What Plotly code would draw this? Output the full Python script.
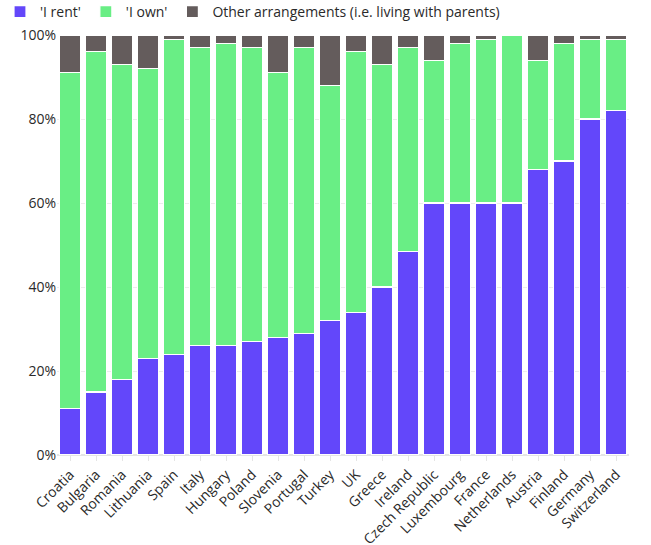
import plotly.graph_objects as go

countries = ["Croatia", "Bulgaria", "Romania", "Lithuania", "Spain", "Italy", "Hungary",
             "Poland", "Slovenia", "Portugal", "Turkey", "UK", "Greece", "Ireland",
             "Czech Republic", "Luxembourg", "France", "Netherlands", "Austria",
             "Finland", "Germany", "Switzerland"]
rent = [11, 15, 18, 23, 24, 26, 26, 27, 28, 29, 32, 34, 40, 48.5, 60, 60, 60, 60, 68, 70, 80, 82]
own = [80, 81, 75, 69, 75, 71, 72, 70, 63, 68, 56, 62, 53, 48.5, 34, 38, 39, 40, 26, 28, 19, 17]
other = [9, 4, 7, 8, 1, 3, 2, 3, 9, 3, 12, 4, 7, 3, 6, 2, 1, 0, 6, 2, 1, 1]
y_ticks = [0, 20, 40, 60, 80, 100]
y_labels = ["0%", "20%", "40%", "60%", "80%", "100%"]

series = [("'I rent'", rent, "#6347FA"),
          ("'I own'", own, "#69EE85"),
          ("Other arrangements (i.e. living with parents)", other, "#645C5C")]

fig = go.Figure()
for name, vals, col in series:
    fig.add_trace(go.Bar(x=countries, y=vals, name=name, marker_color=col,
                         marker_line_color="white", marker_line_width=1.2))

fig.update_layout(
    barmode="stack",
    bargap=0.18,
    width=651, height=545,
    margin=dict(l=57, r=22, t=35, b=90, autoexpand=False),
    paper_bgcolor="white", plot_bgcolor="white",
    font=dict(family="Open Sans", size=14, color="#2a2a2a"),
    legend=dict(orientation="h", xref="container", yref="container",
                x=-0.024, y=1 - 12 / 545, xanchor="left", yanchor="middle",
                font=dict(size=14), traceorder="normal",
                itemwidth=30, tracegroupgap=0),
    xaxis=dict(tickangle=-45, ticks="outside", ticklen=5, tickcolor="#e5e5e5",
               showgrid=False, tickfont=dict(size=14)),
    yaxis=dict(range=[0, 100], tickvals=y_ticks, ticktext=y_labels,
               gridcolor="#ececec", zeroline=True, zerolinecolor="#e5e5e5",
               tickfont=dict(size=14)),
)

fig.write_html("out.html", config={"displayModeBar": False},
               post_script="document.body.style.margin='0';")
